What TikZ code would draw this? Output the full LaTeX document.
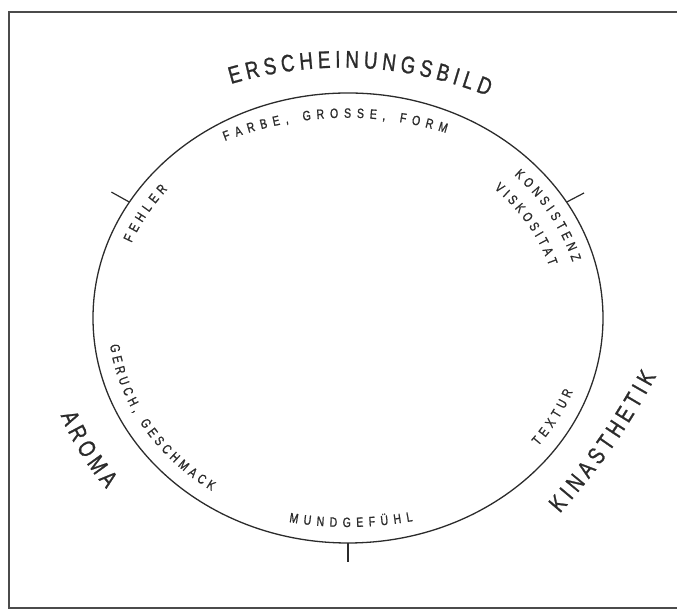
\documentclass[tikz,border=0pt]{standalone}
\usepackage{fontspec}
\newfontfamily\lettering[FakeStretch=0.78,FakeBold=1]{Liberation Sans}
\usetikzlibrary{decorations.text,calc}
\definecolor{ink}{HTML}{2B2B2B}
\begin{document}
\begin{tikzpicture}[x=1pt,y=1pt,
  frameline/.style={draw=ink!85, line width=1.3pt},
  outline/.style={draw=ink, line width=1.3pt},
  tickline/.style={draw=ink, line width=1.2pt},
  bigtext/.style={decorate, decoration={text along path, text align={fit to path}, text color=ink,
      text={|\lettering\fontsize{24}{28}\selectfont|#1}}},
  smalltext/.style={decorate, decoration={text along path, text align={fit to path}, text color=ink,
      text={|\lettering\fontsize{13.5}{16}\selectfont|#1}}}
]
\useasboundingbox (0,0) rectangle (677,612);
% frame
\coordinate (fTL) at (9,600);
\coordinate (fBL) at (9,4);
\coordinate (fBR) at (677,4);
\coordinate (fTR) at (677,600);
\draw[frameline] (fTR) -- (fTL) -- (fBL) -- (fBR);
% ellipse
\coordinate (C) at (348,294);
\draw[outline] (C) ellipse [x radius=255, y radius=225];
% ticks
\coordinate (tL1) at ($(C)+(149:255 and 225)$);
\coordinate (tL2) at (111.4,419.9);
\coordinate (tR1) at ($(C)+(31:255 and 225)$);
\coordinate (tR2) at (584,419);
\coordinate (tB1) at ($(C)+(270:255 and 225)$);
\coordinate (tB2) at (348,50);
\draw[tickline] (tL1) -- (tL2);
\draw[tickline] (tR1) -- (tR2);
\draw[tickline] (tB1) -- (tB2);
% big labels
\path[bigtext={ERSCHEINUNGSBILD}] (231,528) .. controls (317.3,553.3) and (403,549.3) .. (488,516);
\path[bigtext={AROMA}] (C) ++(200.6:307 and 277) arc[start angle=200.6, end angle=218.1, x radius=307, y radius=277];
\path[bigtext={KINASTHETIK}] (559.9,98.4) to[bend right=6] (656.3,235.8);
% small labels
\path[smalltext={FARBE, GROSSE, FORM}] (225,471) .. controls (298,499) and (371.7,501.7) .. (446,479);
\path[smalltext={MUNDGEFÜHL}] (289,90) .. controls (329,83) and (370.3,83.3) .. (413,91);
\path[smalltext={FEHLER}] (C) ++(158.3:233 and 203) arc[start angle=158.3, end angle=140.7, x radius=233, y radius=203];
\path[smalltext={KONSISTENZ}] (C) ++(44.6:233.5 and 203.5) arc[start angle=44.6, end angle=16, x radius=233.5, y radius=203.5];
\path[smalltext={VISKOSITAT}] (C) ++(45.9:210 and 180) arc[start angle=45.9, end angle=16.8, x radius=210, y radius=180];
\path[smalltext={GERUCH, GESCHMACK}] (C) ++(187.4:240 and 210) arc[start angle=187.4, end angle=235.4, x radius=240, y radius=210];
\path[smalltext={TEXTUR}] (C) ++(322.4:240 and 210) arc[start angle=322.4, end angle=339.5, x radius=240, y radius=210];
\end{tikzpicture}
\end{document}
